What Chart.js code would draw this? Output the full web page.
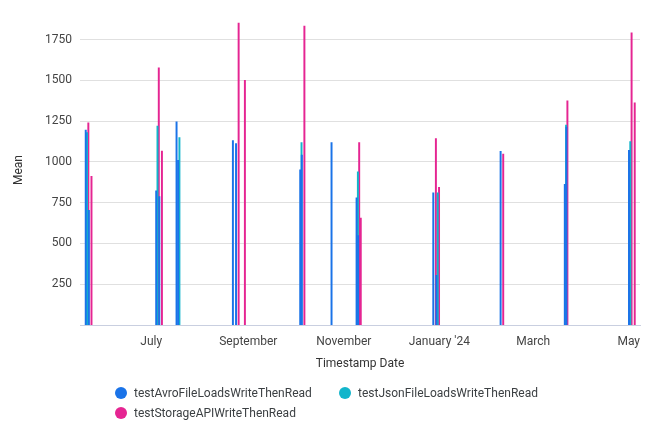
<!DOCTYPE html>
<html>
<head>
<meta charset="utf-8">
<script src="https://cdn.jsdelivr.net/npm/chart.js@4/dist/chart.umd.min.js"></script>
<style>
  body { margin: 0; background: #fff; font-family: Roboto, sans-serif; }
  #wrap { position: relative; width: 650px; height: 442px; }
  #legend { position: absolute; left: 115px; top: 383px; display: grid;
            grid-template-columns: 224px auto; row-gap: 1px; font-size: 12px; color: #3c4043; }
  .item { display: flex; align-items: center; height: 19px; white-space: nowrap; }
  .dot { width: 12px; height: 12px; border-radius: 50%; margin-right: 7px; }
</style>
</head>
<body>
<div id="wrap">
  <canvas id="meanChart" width="650" height="442"></canvas>
  <div id="legend"></div>
</div>
<script>
const dates = ['2023-05-21','2023-05-23','2023-07-05','2023-07-07','2023-07-18','2023-07-19',
  '2023-08-23','2023-08-25','2023-08-29','2023-10-05','2023-10-06','2023-10-25','2023-11-10',
  '2023-11-11','2023-12-29','2023-12-31','2024-02-10','2024-03-22','2024-03-23','2024-05-02','2024-05-04'];
const avro    = [1196, 704, 823, 787, 1246, 1010, 1131, 1113, null, 952, 1042, 1119, 780, 549, 810, 304, 1065, 863, 1214, 1071, null];
const json    = [1180, null, 1220, null, null, 1149, null, null, null, 1119, null, null, 940, null, null, 810, null, 1226, null, 1125, null];
const storage = [1240, 912, 1577, 1067, null, null, null, 1851, 1500, null, 1833, null, 1119, 655, 1143, 845, 1048, 1375, null, 1792, 1363];

const seriesNames = ['testAvroFileLoadsWriteThenRead', 'testJsonFileLoadsWriteThenRead', 'testStorageAPIWriteThenRead'];
const seriesColors = ['#1a73e8', '#12b5cb', '#e52592'];

const tickDates = ['2023-07-01', '2023-09-01', '2023-11-01', '2024-01-01', '2024-03-01', '2024-05-01'];
const tickLabels = ['July', 'September', 'November', "January '24", 'March', 'May'];
const yTicks = [250, 500, 750, 1000, 1250, 1500, 1750];

function dayNum(s) {
    const p = s.split('-');
    return Date.UTC(+p[0], +p[1] - 1, +p[2]) / 86400000;
}

function points(values) {
    return dates.map((d, i) => ({ x: dayNum(d), y: values[i] }));
}

Chart.defaults.font.family = 'Roboto';
Chart.defaults.font.size = 12;
Chart.defaults.color = '#444';

const ctx = document.getElementById('meanChart').getContext('2d');
new Chart(ctx, {
    type: 'bar',
    data: {
        datasets: [avro, json, storage].map((vals, i) => ({
            label: seriesNames[i],
            data: points(vals),
            backgroundColor: seriesColors[i],
            barThickness: 1.3,
        }))
    },
    options: {
        responsive: false,
        animation: false,
        layout: { padding: { top: 6, right: 10, bottom: 67, left: 0 } },
        plugins: { legend: { display: false }, tooltip: { enabled: false } },
        scales: {
            x: {
                type: 'linear',
                offset: false,
                min: dayNum('2023-07-01') - 45.5,
                max: dayNum('2024-05-01') + 7.2,
                grid: { display: false },
                border: { color: '#c9cfe0' },
                afterBuildTicks: s => { s.ticks = tickDates.map(d => ({ value: dayNum(d) })); },
                afterFit: s => { s.height = 50; },
                ticks: {
                    color: '#444',
                    maxRotation: 0,
                    autoSkip: false,
                    padding: 2,
                    callback: v => tickLabels[tickDates.findIndex(d => dayNum(d) === v)]
                },
                title: { display: true, text: 'Timestamp Date', color: '#333', padding: { top: 0 } }
            },
            y: {
                min: 0,
                max: 1900,
                afterBuildTicks: s => { s.ticks = yTicks.map(v => ({ value: v })); },
                afterFit: s => { s.width = 80; },
                grid: { color: '#e0e0e0', drawTicks: false },
                border: { display: false },
                ticks: { color: '#444', padding: 8, callback: v => String(v) },
                title: { display: true, text: 'Mean', color: '#333', padding: { top: 12, bottom: 0 } }
            }
        }
    }
});

const legend = document.getElementById('legend');
seriesNames.forEach((name, i) => {
    legend.innerHTML += `<div class="item"><span class="dot" style="background:${seriesColors[i]}"></span>${name}</div>`;
});
</script>
</body>
</html>
